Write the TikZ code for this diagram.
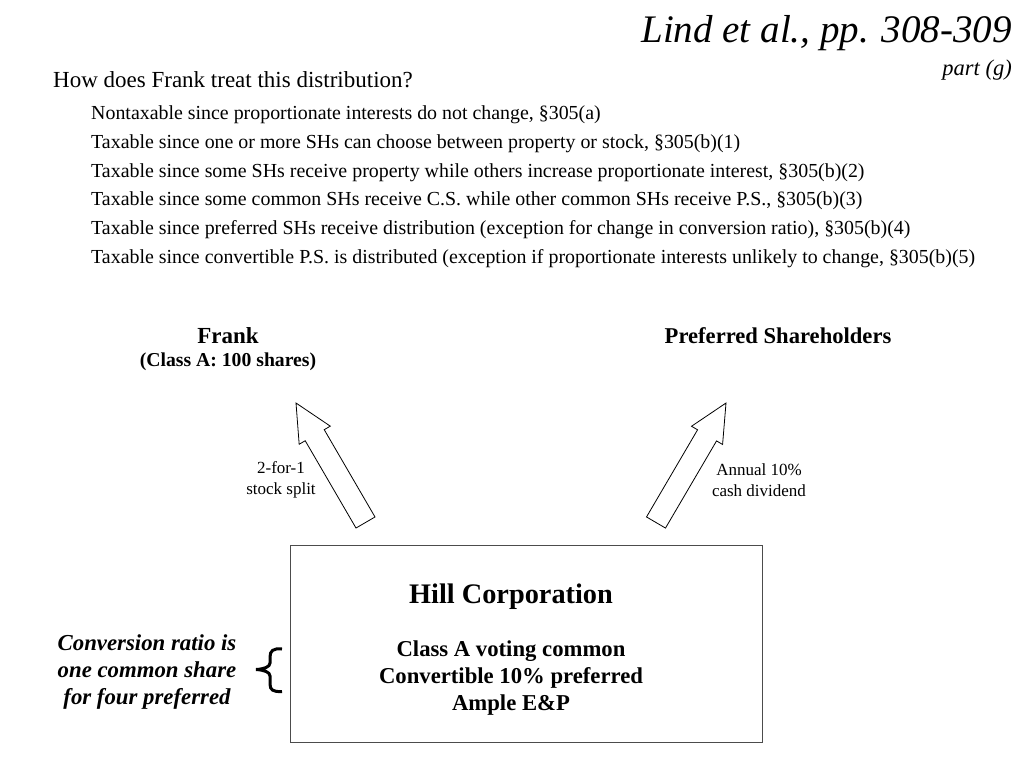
\documentclass[tikz,border=0pt]{standalone}
\usepackage{fontspec}
\setmainfont{Liberation Serif}
\usetikzlibrary{calc}
\begin{document}
\begin{tikzpicture}[x=1pt,y=-1pt,
  txt/.style={inner sep=0pt,align=center},
  item/.style={inner sep=0pt,anchor=west,font=\fontsize{19.9}{22}\selectfont},
  lbl/.style={inner sep=0pt,align=center,font=\fontsize{17}{20.5}\selectfont},
  blockarrow/.style={draw=black,line width=0.8pt,fill=white,line join=miter}]
\useasboundingbox (0,0) rectangle (1024,768);
\fill[white] (0,0) rectangle (1024,768);

\node[txt,anchor=east,font=\itshape\fontsize{39}{42}\selectfont] (title) at (1012,33) {Lind et al., pp. 308-309};
\node[txt,anchor=east,font=\itshape\fontsize{22.5}{24}\selectfont] (part) at (1012,70) {part (g)};
\node[txt,anchor=west,font=\fontsize{23}{26}\selectfont] (q) at (53,80) {How does Frank treat this distribution?};

\node[item] (i1) at (91,115) {Nontaxable since proportionate interests do not change, §305(a)};
\node[item] (i2) at (91,144) {Taxable since one or more SHs can choose between property or stock, §305(b)(1)};
\node[item] (i3) at (91,173) {Taxable since some SHs receive property while others increase proportionate interest, §305(b)(2)};
\node[item] (i4) at (91,201) {Taxable since some common SHs receive C.S. while other common SHs receive P.S., §305(b)(3)};
\node[item] (i5) at (91,230) {Taxable since preferred SHs receive distribution (exception for change in conversion ratio), §305(b)(4)};
\node[item] (i6) at (91,259) {Taxable since convertible P.S. is distributed (exception if proportionate interests unlikely to change, §305(b)(5)};

\node[txt,font=\bfseries\fontsize{23}{26}\selectfont] (frank) at (228,336) {Frank};
\node[txt,font=\bfseries\fontsize{19.7}{22}\selectfont] (frankc) at (228,362) {(Class A: 100 shares)};
\node[txt,font=\bfseries\fontsize{22.6}{26}\selectfont] (pref) at (778,336) {Preferred Shareholders};

\node[lbl] (split) at (281,480) {2-for-1\\stock split};
\node[lbl] (div) at (759,480) {Annual 10\%\\cash dividend};

\node[draw=black!70,line width=0.9pt,minimum width=472pt,minimum height=197pt,inner sep=0pt] (hill) at (526,643.5) {};
\node[txt,font=\bfseries\fontsize{28.3}{30}\selectfont] (hillt) at (511,597) {Hill Corporation};
\node[txt,font=\bfseries\fontsize{22.7}{27}\selectfont] (hillc) at (511,678) {Class A voting common\\Convertible 10\% preferred\\Ample E\&P};

\node[txt,font=\bfseries\itshape\fontsize{22.8}{27}\selectfont] (conv) at (147,672) {Conversion ratio is\\one common share\\for four preferred};

% brace
\draw[line width=3pt,line cap=butt] (282,649) .. controls (273,648) and (270,651) .. (270,657) -- (270,663)
  .. controls (270,667) and (264,669) .. (256,669.5) .. controls (264,670) and (270,672) .. (270,676)
  -- (270,684) .. controls (270,690) and (273,692) .. (282,691.5);

% block arrows
\coordinate (T1) at (365.5,522.5);
\coordinate (H1) at (296,403);
\coordinate (T2) at (656,522.5);
\coordinate (H2) at (726,403);
\foreach \t/\h in {T1/H1,T2/H2}{
  \coordinate (B) at ($(\t)!101pt!(\h)$);
  \draw[blockarrow]
    ($(\t)!11pt!90:(\h)$) -- ($(B)!11pt!-90:(\t)$) -- ($(B)!18pt!-90:(\t)$) -- (\h)
    -- ($(B)!18pt!90:(\t)$) -- ($(B)!11pt!90:(\t)$) -- ($(\t)!11pt!-90:(\h)$) -- cycle;
}
\end{tikzpicture}
\end{document}
